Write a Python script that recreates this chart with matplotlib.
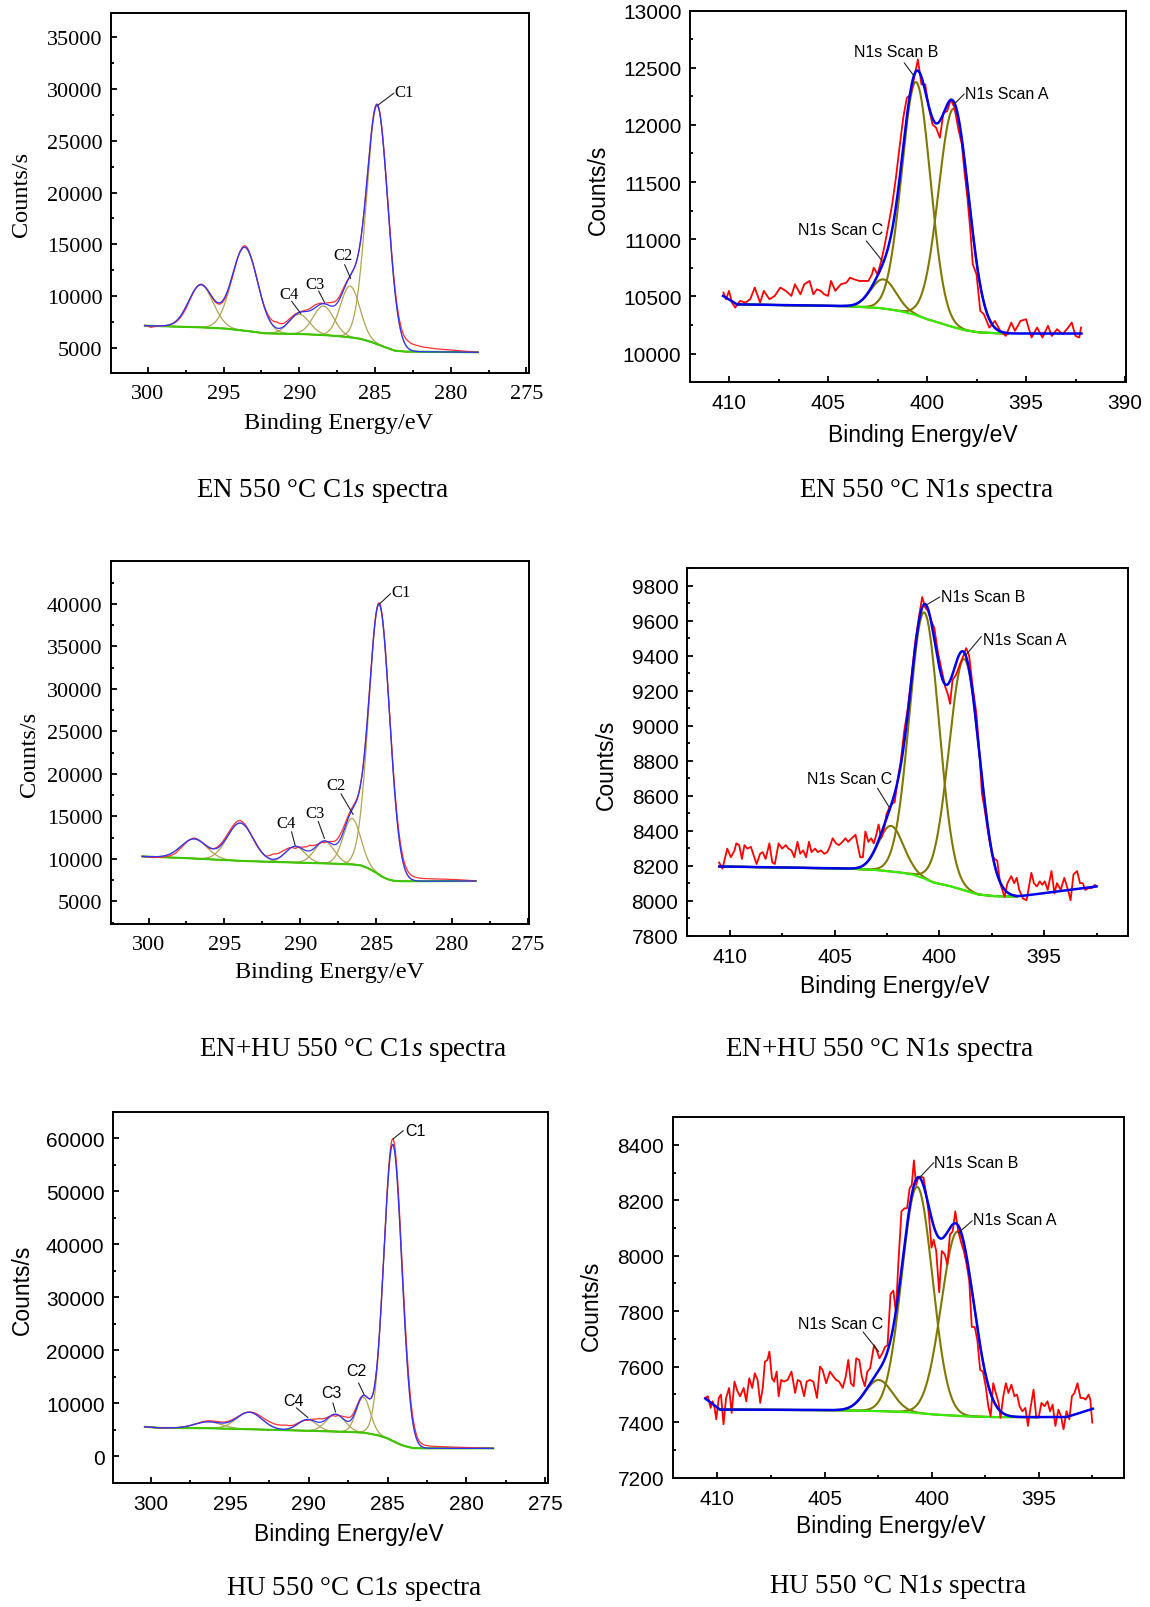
import numpy as np
import matplotlib
matplotlib.use("Agg")
import matplotlib.pyplot as plt
from matplotlib.ticker import MultipleLocator

plt.rcParams['mathtext.fontset'] = 'custom'
plt.rcParams['mathtext.rm'] = 'Liberation Serif'
plt.rcParams['mathtext.it'] = 'Liberation Serif:italic'

SERIF = 'Liberation Serif'
SANS = 'Liberation Sans'
W, H = 1150, 1608

# ---------------- Panel 1 : EN 550 C1s ----------------
p1_centers = [296.5, 293.6, 290.0, 288.4, 286.64, 284.85]
p1_heights = [4100, 8050, 1900, 2800, 4950, 23000]
p1_fwhm = [1.9, 2.0, 1.6, 1.6, 1.5, 1.65]
p1_bg_E = [300.2, 298.5, 296.5, 295.0, 293.6, 292.3, 290.0, 288.4, 287.0, 286.0, 285.5, 285.0, 284.6, 284.1, 283.7, 283.1, 278.2]
p1_bg_V = [7150, 7080, 6990, 6890, 6670, 6410, 6350, 6250, 6090, 5900, 5700, 5450, 5220, 4950, 4740, 4650, 4580]
p1_res_E = [300.2, 299.8, 299.4, 298.5, 297.5, 296.5, 295.5, 294.5, 293.6, 292.5, 291.9, 291.5, 291.0, 290.5, 290.0, 289.5,
            289.0, 288.4, 287.8, 287.2, 286.6, 285.5, 284.75, 283.8, 283.3, 282.8, 282.3, 281.8, 281.0, 280.0, 279.0, 278.2]
p1_res_V = [50, -150, 0, 0, -200, 50, -100, -200, 150, 0, 300, 600, 300, 150, 0, 150,
            300, 0, 400, 250, 0, 0, 100, 300, 500, 700, 600, 450, 300, 200, 100, 0]
p1_labels = ['C1', 'C2', 'C3', 'C4']
p1_label_pos = [(283.73, 29740), (287.12, 13940), (288.93, 11150), (290.7, 10190)]
p1_label_ha = ['left', 'center', 'center', 'center']
p1_lead_from = [(283.75, 29600), (287.0, 13050), (288.72, 10500), (290.5, 9500)]
p1_lead_to = [(284.8, 28450), (286.6, 11700), (288.33, 9400), (289.9, 8330)]

# ---------------- Panel 2 : EN 550 N1s ----------------
p2_centers = [402.2, 400.55, 398.65]
p2_heights = [255, 2040, 1910]
p2_fwhm = [1.5, 1.7, 1.8]
p2_bg_E = [410.3, 409.6, 404.2, 402.5, 401.9, 401.3, 400.7, 400.0, 399.4, 398.9, 398.1, 397.4, 396.6, 395.9, 392.2]
p2_bg_V = [10504, 10430, 10415, 10400, 10387, 10368, 10344, 10300, 10270, 10242, 10204, 10185, 10178, 10175, 10175]
p2_green = (409.6, 395.9)
p2_red_E = [410.28, 410.15, 410.0, 409.85, 409.69, 409.44, 409.17, 408.93, 408.70, 408.43,
            408.24, 407.96, 407.69, 407.41, 407.13, 406.85, 406.67, 406.39, 406.20, 405.93,
            405.74, 405.56, 405.37, 405.19, 405.0, 404.85, 404.63, 404.35, 404.07, 403.89,
            403.70, 403.43, 403.15, 402.96, 402.78, 402.69, 402.5, 402.31, 402.13, 401.94,
            401.76, 401.57, 401.39, 401.2, 401.02, 400.83, 400.65, 400.46, 400.28, 400.09,
            399.91, 399.72, 399.54, 399.35, 399.17, 398.98, 398.8, 398.61, 398.43, 398.24,
            398.11, 397.96, 397.81, 397.69, 397.5, 397.31, 397.13, 396.85, 396.57, 396.3,
            396.02, 395.74, 395.56, 395.28, 395.0, 394.72, 394.44, 394.17, 393.89, 393.7,
            393.43, 393.15, 392.87, 392.69, 392.5, 392.31, 392.22]
p2_red_V = [10533, 10475, 10548, 10446, 10402, 10460, 10446, 10475, 10577, 10446,
            10548, 10475, 10504, 10577, 10548, 10504, 10606, 10518, 10606, 10635,
            10518, 10562, 10548, 10518, 10504, 10635, 10548, 10606, 10620, 10664,
            10650, 10635, 10635, 10635, 10693, 10751, 10693, 10810, 10955, 11130,
            11305, 11538, 11800, 12062, 12237, 12266, 12412, 12572, 12354, 12354,
            12150, 12004, 11975, 11888, 12106, 12121, 12223, 12150, 11975, 11829,
            11596, 11363, 11072, 10781, 10693, 10373, 10344, 10227, 10285, 10198,
            10154, 10271, 10198, 10285, 10300, 10140, 10227, 10140, 10242, 10154,
            10213, 10169, 10227, 10271, 10154, 10140, 10227]
p2_labels = ['N1s Scan B', 'N1s Scan A', 'N1s Scan C']
p2_label_pos = [(401.54, 12639), (398.06, 12272), (404.37, 11081)]
p2_label_ha = ['center', 'left', 'center']
p2_lead_from = [(401.15, 12543), (398.12, 12270), (403.06, 10985)]
p2_lead_to = [(400.65, 12426), (398.61, 12185), (402.26, 10810)]

# ---------------- Panel 3 : EN+HU 550 C1s ----------------
p3_centers = [297.0, 293.96, 290.34, 288.41, 286.6, 284.8]
p3_heights = [2300, 4450, 1900, 2590, 5400, 31800]
p3_fwhm = [2.0, 2.0, 1.5, 1.5, 1.35, 1.6]
p3_bg_E = [300.41, 298.5, 296.98, 293.96, 291.79, 288.41, 286.6, 286.0, 285.6, 285.1, 284.66, 284.3, 283.94, 283.5, 283.2, 278.45]
p3_bg_V = [10300, 10180, 10056, 9773, 9650, 9490, 9369, 9250, 8964, 8500, 7953, 7650, 7467, 7390, 7380, 7410]
p3_res_E = [300.4, 299.75, 299.0, 298.2, 297.0, 296.0, 295.3, 294.0, 293.0, 292.3, 291.8, 291.2, 290.8, 290.34, 289.8,
            289.37, 288.9, 288.41, 287.9, 287.4, 286.8, 285.5, 284.73, 284.0, 283.4, 282.8, 282.0, 281.0, 280.0, 279.0, 278.45]
p3_res_V = [0, -100, -100, -300, 100, -100, 200, 300, -100, 0, 640, 500, 200, -280, 280,
            680, 100, -240, 320, 600, 280, 0, 160, 400, 600, 480, 320, 250, 200, 100, 0]
p3_labels = ['C1', 'C2', 'C3', 'C4']
p3_label_pos = [(283.99, 41445), (287.68, 18670), (289.0, 15440), (290.94, 14220)]
p3_label_ha = ['left', 'center', 'center', 'center']
p3_lead_from = [(284.06, 41200), (287.32, 17660), (288.82, 14425), (290.58, 13210)]
p3_lead_to = [(284.78, 40000), (286.52, 15230), (288.41, 12400), (290.34, 11600)]

# ---------------- Panel 4 : EN+HU 550 N1s ----------------
p4_centers = [402.31, 400.72, 398.81]
p4_heights = [260, 1520, 1320]
p4_fwhm = [1.4, 1.65, 1.7]
p4_bg_E = [410.5, 404.4, 403.0, 402.0, 401.3, 400.8, 400.3, 399.55, 398.85, 398.15, 397.45, 396.3, 392.5]
p4_bg_V = [8197, 8185, 8177, 8165, 8152, 8132, 8106, 8087, 8063, 8037, 8028, 8025, 8083]
p4_green = (410.5, 396.3)
p4_red_E = [410.51, 410.35, 410.12, 409.95, 409.77, 409.69, 409.55, 409.42, 409.30, 409.16,
            408.99, 408.86, 408.72, 408.55, 408.43, 408.29, 408.11, 407.97, 407.85, 407.67,
            407.50, 407.33, 407.20, 407.06, 406.92, 406.77, 406.64, 406.50, 406.36, 406.22,
            406.10, 405.93, 405.80, 405.66, 405.49, 405.35, 405.23, 405.09, 404.93, 404.79,
            404.62, 404.48, 404.35, 404.18, 404.00, 403.88, 403.78, 403.65, 403.53, 403.39,
            403.25, 403.13, 403.01, 402.90, 402.78, 402.66, 402.52, 402.38, 402.26, 402.13,
            401.99, 401.85, 401.68, 401.50, 401.33, 401.15, 400.98, 400.82, 400.68, 400.54,
            400.38, 400.24, 400.07, 399.90, 399.72, 399.58, 399.49, 399.37, 399.20, 399.02,
            398.85, 398.72, 398.58, 398.41, 398.23, 398.09, 397.97, 397.83, 397.66, 397.48,
            397.36, 397.24, 397.10, 396.89, 396.75, 396.57, 396.43, 396.31, 396.19, 396.01,
            395.84, 395.61, 395.49, 395.35, 395.21, 395.09, 394.97, 394.83, 394.65, 394.51,
            394.39, 394.21, 394.04, 393.86, 393.74, 393.60, 393.43, 393.29, 393.16, 393.04,
            392.90, 392.73, 392.59, 392.52]
p4_red_V = [8220, 8185, 8299, 8250, 8289, 8329, 8319, 8240, 8319, 8299,
            8309, 8260, 8211, 8270, 8279, 8240, 8329, 8220, 8211, 8329,
            8299, 8319, 8299, 8289, 8250, 8338, 8270, 8289, 8250, 8338,
            8279, 8299, 8279, 8289, 8270, 8279, 8309, 8358, 8329, 8319,
            8338, 8358, 8338, 8358, 8378, 8309, 8250, 8250, 8397, 8338,
            8358, 8329, 8378, 8437, 8358, 8397, 8496, 8535, 8555, 8565,
            8693, 8791, 8968, 9106, 9283, 9480, 9618, 9736, 9677, 9657,
            9598, 9559, 9421, 9323, 9224, 9175, 9126, 9263, 9293, 9352,
            9401, 9444, 9401, 9224, 9067, 8850, 8614, 8516, 8378, 8260,
            8240, 8230, 8102, 8024, 8102, 8142, 8102, 8132, 8063, 8014,
            8004, 8161, 8102, 8083, 8112, 8092, 8112, 8063, 8171, 8043,
            8102, 8063, 8132, 8063, 8004, 8152, 8171, 8102, 8102, 8063,
            8073, 8073, 8092, 8087]
p4_labels = ['N1s Scan B', 'N1s Scan A', 'N1s Scan C']
p4_label_pos = [(399.9, 9740), (397.94, 9494), (404.3, 8699)]
p4_label_ha = ['left', 'left', 'center']
p4_lead_from = [(399.98, 9736), (398.0, 9510), (402.95, 8644)]
p4_lead_to = [(400.6, 9692), (398.76, 9401), (402.34, 8525)]

# ---------------- Panel 5 : HU 550 C1s ----------------
p5_centers = [296.37, 293.77, 290.09, 288.3, 286.54, 284.67]
p5_heights = [1200, 3200, 2100, 3250, 6700, 55900]
p5_fwhm = [2.0, 1.9, 1.4, 1.4, 1.05, 1.35]
p5_bg_E = [300.4, 299.5, 298.0, 296.37, 293.77, 289.8, 287.5, 286.5, 285.63, 285.1, 284.7, 284.3, 284.0, 283.42, 283.0, 278.3]
p5_bg_V = [5550, 5350, 5330, 5290, 5100, 4790, 4600, 4450, 3980, 3500, 2920, 2350, 1990, 1555, 1500, 1490]
p5_res_E = [300.4, 299.5, 298.5, 297.5, 296.4, 295.0, 293.8, 292.5, 291.5, 291.0, 290.1, 289.35, 288.8,
            288.3, 287.6, 287.0, 286.56, 285.5, 284.65, 283.77, 283.07, 282.4, 281.5, 280.5, 279.5, 278.3]
p5_res_V = [0, 0, 0, 0, 190, 190, 0, 600, 800, 300, -190, 750, 190,
            -400, 800, 430, 0, 0, 1100, 1500, 620, 430, 300, 200, 100, 0]
p5_labels = ['C1', 'C2', 'C3', 'C4']
p5_label_pos = [(283.88, 61390), (286.98, 16170), (288.58, 11940), (290.98, 10570)]
p5_label_ha = ['left', 'center', 'center', 'center']
p5_lead_from = [(284.0, 61390), (286.84, 13810), (288.47, 10080), (290.79, 9140)]
p5_lead_to = [(284.65, 59840), (286.49, 11630), (288.3, 8335), (290.05, 7280)]

# ---------------- Panel 6 : HU 550 N1s ----------------
p6_centers = [402.47, 400.68, 398.79]
p6_heights = [112, 816, 665]
p6_fwhm = [1.5, 1.68, 1.79]
p6_bg_E = [410.56, 409.88, 404.66, 402.6, 401.24, 399.86, 398.5, 397.3, 393.71, 392.48]
p6_bg_V = [7485, 7445, 7443, 7440, 7436, 7427, 7421, 7418, 7418, 7448]
p6_green = (409.88, 395.0)
p6_red_E = [410.56, 410.44, 410.31, 410.22, 410.14, 410.05, 409.93, 409.83, 409.71, 409.59,
            409.45, 409.33, 409.2, 409.06, 408.94, 408.77, 408.65, 408.51, 408.37, 408.25,
            408.12, 408.0, 407.88, 407.78, 407.66, 407.57, 407.45, 407.35, 407.23, 407.14,
            407.02, 406.89, 406.72, 406.54, 406.37, 406.25, 406.12, 405.95, 405.83, 405.69,
            405.52, 405.35, 405.21, 405.09, 404.92, 404.75, 404.58, 404.46, 404.32, 404.15,
            404.01, 403.89, 403.77, 403.64, 403.52, 403.38, 403.26, 403.12, 403.0, 402.87,
            402.69, 402.57, 402.44, 402.30, 402.18, 402.06, 401.92, 401.79, 401.67, 401.55,
            401.41, 401.27, 401.15, 401.03, 400.93, 400.83, 400.73, 400.61, 400.49, 400.38,
            400.25, 400.13, 400.01, 399.91, 399.79, 399.65, 399.53, 399.39, 399.27, 399.15,
            399.02, 398.90, 398.76, 398.64, 398.50, 398.37, 398.25, 398.13, 397.99, 397.87,
            397.74, 397.61, 397.48, 397.36, 397.25, 397.13, 397.01, 396.88, 396.79, 396.66,
            396.54, 396.42, 396.28, 396.14, 396.02, 395.90, 395.77, 395.63, 395.51, 395.39,
            395.25, 395.12, 395.0, 394.88, 394.74, 394.60, 394.48, 394.36, 394.23, 394.09,
            393.97, 393.85, 393.71, 393.58, 393.46, 393.34, 393.20, 393.06, 392.94, 392.82,
            392.68, 392.60, 392.51]
p6_red_V = [7487, 7493, 7451, 7475, 7457, 7410, 7487, 7499, 7392, 7487,
            7523, 7433, 7546, 7511, 7493, 7523, 7475, 7558, 7523, 7576,
            7552, 7469, 7523, 7618, 7624, 7654, 7558, 7546, 7582, 7493,
            7552, 7546, 7552, 7582, 7505, 7552, 7546, 7493, 7546, 7552,
            7546, 7487, 7600, 7588, 7540, 7582, 7564, 7552, 7546, 7523,
            7564, 7624, 7540, 7529, 7630, 7624, 7564, 7529, 7582, 7594,
            7677, 7660, 7630, 7648, 7671, 7677, 7862, 7874, 7796, 7981,
            8160, 8171, 8171, 8243, 8255, 8344, 8255, 8285, 8285, 8281,
            8219, 8148, 8029, 8058, 8017, 7868, 8017, 8005, 7969, 8076,
            8088, 8160, 8088, 8052, 8017, 7969, 7910, 7743, 7743, 7695,
            7588, 7582, 7529, 7457, 7421, 7540, 7505, 7469, 7415, 7493,
            7540, 7505, 7535, 7493, 7499, 7457, 7439, 7451, 7386, 7451,
            7517, 7415, 7421, 7469, 7457, 7475, 7439, 7463, 7386, 7445,
            7421, 7374, 7439, 7410, 7493, 7505, 7540, 7487, 7487, 7481,
            7499, 7481, 7398]
p6_labels = ['N1s Scan B', 'N1s Scan A', 'N1s Scan C']
p6_label_pos = [(399.87, 8338), (398.08, 8130), (404.23, 7755)]
p6_label_ha = ['left', 'left', 'center']
p6_lead_from = [(399.9, 8336), (398.11, 8126), (403.2, 7725)]
p6_lead_to = [(400.6, 8279), (398.76, 8082), (402.47, 7654)]

captions = ['EN 550 °C C1$\\mathit{s}$ spectra', 'EN 550 °C N1$\\mathit{s}$ spectra',
            'EN+HU 550 °C C1$\\mathit{s}$ spectra', 'EN+HU 550 °C N1$\\mathit{s}$ spectra',
            'HU 550 °C C1$\\mathit{s}$ spectra', 'HU 550 °C N1$\\mathit{s}$ spectra']


def gauss(E, c, h, w):
    return h * np.exp(-4.0 * np.log(2.0) * (E - c) ** 2 / w ** 2)


fig = plt.figure(figsize=(11.5, 16.08), dpi=100)

# axes boxes in pixels: left, right, top, bottom
boxes = [(110.7, 528.8, 13.9, 373.8), (689.8, 1125.8, 11.6, 383.1),
         (110.7, 528.8, 562.4, 924.6), (686.8, 1128.0, 569.3, 937.0),
         (112.9, 547.5, 1112.5, 1483.8), (672.5, 1124.0, 1118.1, 1478.5)]
ylab_px = [(22, 194), (598.8, 189.7), (29.3, 754.2), (606.2, 764.5), (22, 1289.9), (591.5, 1305.4)]
xlab_px = [(338.3, 423.5), (922.4, 435.2), (329.1, 972.9), (894.9, 986.6), (348.4, 1535), (891.3, 1526.7)]
cap_px = [(322.7, 490.9), (926.1, 490.9), (353, 1049.6), (880.3, 1049.6), (353.9, 1588.8), (898.6, 1587.2)]

panels = [
    dict(c=p1_centers, h=p1_heights, w=p1_fwhm, bgE=p1_bg_E, bgV=p1_bg_V, green=None,
         resE=p1_res_E, resV=p1_res_V, labels=p1_labels, lpos=p1_label_pos, lha=p1_label_ha,
         lf=p1_lead_from, lt=p1_lead_to, xlim=(302.45, 274.84), ylim=(2600, 37350),
         xmaj=5, ymaj=5000, ytick0=5000, ytick1=35000, font=SERIF, kind='C'),
    dict(c=p2_centers, h=p2_heights, w=p2_fwhm, bgE=p2_bg_E, bgV=p2_bg_V, green=p2_green,
         redE=p2_red_E, redV=p2_red_V, labels=p2_labels, lpos=p2_label_pos, lha=p2_label_ha,
         lf=p2_lead_from, lt=p2_lead_to, xlim=(411.98, 389.96), ylim=(9750, 13000),
         xmaj=5, ymaj=500, ytick0=10000, ytick1=13000, font=SANS, kind='N'),
    dict(c=p3_centers, h=p3_heights, w=p3_fwhm, bgE=p3_bg_E, bgV=p3_bg_V, green=None,
         resE=p3_res_E, resV=p3_res_V, labels=p3_labels, lpos=p3_label_pos, lha=p3_label_ha,
         lf=p3_lead_from, lt=p3_lead_to, xlim=(302.49, 274.95), ylim=(2400, 45000),
         xmaj=5, ymaj=5000, ytick0=5000, ytick1=40000, font=SERIF, kind='C'),
    dict(c=p4_centers, h=p4_heights, w=p4_fwhm, bgE=p4_bg_E, bgV=p4_bg_V, green=p4_green,
         redE=p4_red_E, redV=p4_red_V, labels=p4_labels, lpos=p4_label_pos, lha=p4_label_ha,
         lf=p4_lead_from, lt=p4_lead_to, xlim=(412.05, 391.0), ylim=(7800, 9900),
         xmaj=5, ymaj=200, ytick0=7800, ytick1=9800, font=SANS, kind='N'),
    dict(c=p5_centers, h=p5_heights, w=p5_fwhm, bgE=p5_bg_E, bgV=p5_bg_V, green=None,
         resE=p5_res_E, resV=p5_res_V, labels=p5_labels, lpos=p5_label_pos, lha=p5_label_ha,
         lf=p5_lead_from, lt=p5_lead_to, xlim=(302.42, 274.86), ylim=(-5000, 65000),
         xmaj=5, ymaj=10000, ytick0=0, ytick1=60000, font=SANS, kind='C'),
    dict(c=p6_centers, h=p6_heights, w=p6_fwhm, bgE=p6_bg_E, bgV=p6_bg_V, green=p6_green,
         redE=p6_red_E, redV=p6_red_V, labels=p6_labels, lpos=p6_label_pos, lha=p6_label_ha,
         lf=p6_lead_from, lt=p6_lead_to, xlim=(412.09, 391.03), ylim=(7200, 8500),
         xmaj=5, ymaj=200, ytick0=7200, ytick1=8400, font=SANS, kind='N'),
]

for i, p in enumerate(panels):
    l, r, t, b = boxes[i]
    ax = fig.add_axes([l / W, 1 - b / H, (r - l) / W, (b - t) / H])
    bgE = np.asarray(p['bgE'], float)
    bgV = np.asarray(p['bgV'], float)
    E = np.linspace(bgE[0], bgE[-1], 3000)
    bg = np.interp(E, bgE[::-1], bgV[::-1])
    comps = [gauss(E, c, h, w) for c, h, w in zip(p['c'], p['h'], p['w'])]
    env = bg + np.sum(comps, axis=0)

    if p['kind'] == 'C':
        olive, green, red, blue = '#b0a452', '#3cc800', '#ff3030', '#3030ff'
        lw_c, lw_g, lw_r, lw_b = 0.9, 1.5, 0.9, 0.9
        gmask = np.ones_like(E, bool)
    else:
        olive, green, red, blue = '#807800', '#33ee00', '#ff0000', '#0000ee'
        lw_c, lw_g, lw_r, lw_b = 1.5, 1.5, 1.3, 1.8
        gmask = (E <= p['green'][0]) & (E >= p['green'][1])

    for comp in comps:
        ax.plot(E[gmask], bg[gmask] + comp[gmask], color=olive, lw=lw_c, zorder=2)
    ax.plot(E[gmask], bg[gmask], color=green, lw=lw_g, zorder=3)
    if p['kind'] == 'C':
        rE = np.asarray(p['resE'], float)
        rV = np.asarray(p['resV'], float)
        red_curve = env + np.interp(E, rE[::-1], rV[::-1])
        ax.plot(E, red_curve, color=red, lw=lw_r, zorder=4)
    else:
        ax.plot(p['redE'], p['redV'], color=red, lw=lw_r, zorder=4)
    ax.plot(E, env, color=blue, lw=lw_b, zorder=5)

    # annotations
    afs = 12 if p['font'] == SERIF else 11.5
    for lab, pos, ha, lf, lt in zip(p['labels'], p['lpos'], p['lha'], p['lf'], p['lt']):
        ax.text(pos[0], pos[1], lab, ha=ha, va='center', fontsize=afs, family=p['font'], zorder=6)
        ax.annotate('', xy=lt, xytext=lf,
                    arrowprops=dict(arrowstyle='-', color='#222222', lw=0.8, shrinkA=0, shrinkB=0),
                    zorder=6)

    ax.set_xlim(*p['xlim'])
    ax.set_ylim(*p['ylim'])
    ax.xaxis.set_major_locator(MultipleLocator(p['xmaj']))
    ax.xaxis.set_minor_locator(MultipleLocator(p['xmaj'] / 2))
    ax.set_yticks(np.arange(p['ytick0'], p['ytick1'] + 1, p['ymaj']))
    ax.yaxis.set_minor_locator(MultipleLocator(p['ymaj'] / 2))
    tfs = 16 if p['font'] == SERIF else 15
    ax.tick_params(which='both', direction='in', top=False, right=False, width=1.3,
                   labelsize=tfs, labelfontfamily=p['font'])
    ax.tick_params(which='major', length=4.5)
    ax.tick_params(which='minor', length=2.5)
    ax.tick_params(axis='y', pad=6)
    ax.tick_params(axis='x', pad=8)
    for s in ax.spines.values():
        s.set_linewidth(1.4)

    lfs = 17.5 if p['font'] == SERIF else 16.5
    yx, yy = ylab_px[i]
    fig.text(yx / W, 1 - yy / H, 'Counts/s', rotation=90, ha='center', va='center',
             fontsize=lfs, family=p['font'])
    xx, xy = xlab_px[i]
    fig.text(xx / W, 1 - xy / H, 'Binding Energy/eV', ha='center', va='center',
             fontsize=lfs, family=p['font'])
    cx, cy = cap_px[i]
    fig.text(cx / W, 1 - cy / H, captions[i], ha='center', va='center',
             fontsize=19.5, family=SERIF)

fig.savefig('out.png', dpi=100)
